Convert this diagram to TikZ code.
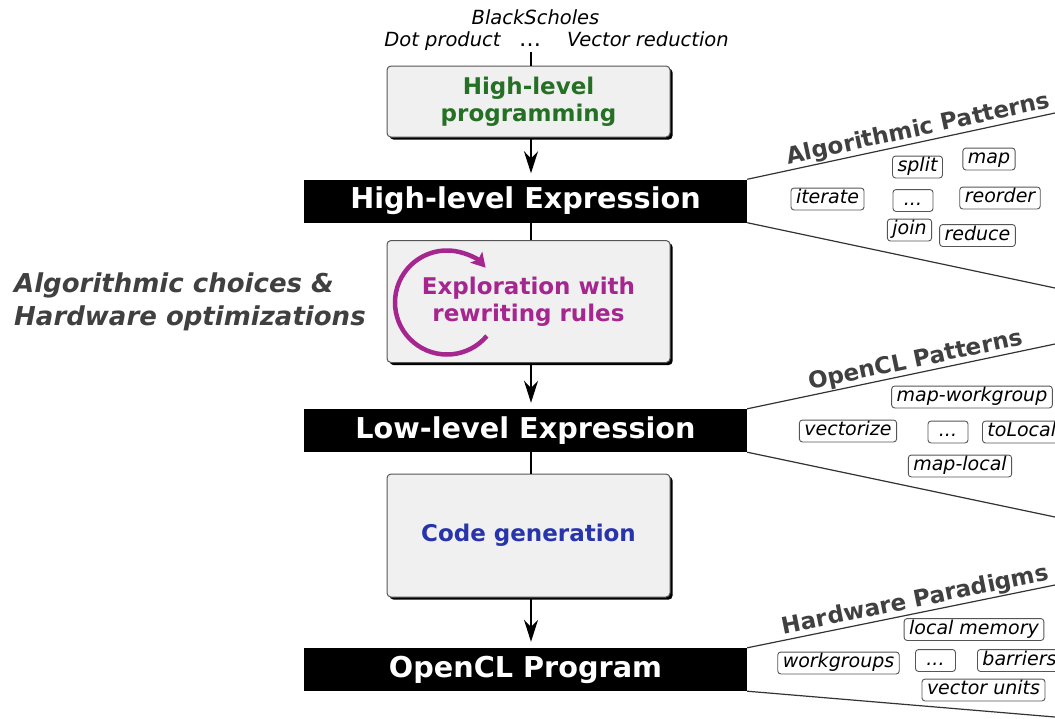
\documentclass[tikz,border=0pt]{standalone}
\usepackage{fontspec}
\setmainfont{DejaVu Sans}[ItalicFont={DejaVu Sans Oblique},BoldItalicFont={DejaVu Sans Bold Oblique}]
\usetikzlibrary{arrows.meta,shadows,calc}

\definecolor{boxfill}{HTML}{F0F0F0}
\definecolor{boxline}{HTML}{555555}
\definecolor{stepgreen}{RGB}{38,112,38}
\definecolor{steppurple}{RGB}{166,38,143}
\definecolor{stepblue}{RGB}{40,52,170}
\definecolor{labelgray}{HTML}{404040}
\definecolor{fanline}{HTML}{333333}

\begin{document}
\begin{tikzpicture}[x=1pt,y=-1pt,
  stage/.style={draw=boxline, line width=1pt, fill=boxfill, rounded corners=4pt,
    minimum width=283pt, inner sep=0pt, align=center,
    font=\fontsize{23}{27}\selectfont\bfseries,
    drop shadow={shadow xshift=2.6pt, shadow yshift=-2.6pt, fill=black, opacity=1}},
  expr/.style={fill=black, text=white, minimum width=443pt, minimum height=43pt,
    inner sep=0pt, font=\fontsize{28.7}{30}\selectfont\bfseries},
  tag/.style={draw=boxline, line width=0.9pt, rounded corners=3pt, inner xsep=5pt,
    inner ysep=1.5pt, text height=14.4pt, text depth=4.5pt,
    font=\fontsize{19}{22}\selectfont\itshape},
  dotstag/.style={tag, minimum width=40pt},
  flow/.style={line width=2pt, shorten >=6pt, -{Stealth[length=22pt,width=14pt,inset=7pt]}},
  link/.style={line width=2pt},
  fan/.style={draw=fanline, line width=1.2pt},
  fanlabel/.style={sloped, above, inner sep=0.5pt, text=labelgray,
    font=\fontsize{23}{25}\selectfont\bfseries},
  example/.style={font=\fontsize{19.5}{22}\selectfont\itshape, inner sep=0pt},
]
\useasboundingbox (0,0) rectangle (1055,718);
\clip (0,0) rectangle (1055,718);

% vertical axis of the flow
\coordinate (axis) at (531,0);

% example programs
\node[example, anchor=base] (bs) at (535.5,24) {BlackScholes};
\node[example, anchor=base] (dot) at (442.5,46) {Dot product};
\node[anchor=base, inner sep=0pt, font=\fontsize{22}{22}\selectfont] (etc) at (530,46) {…};
\node[example, anchor=base] (vec) at (648,46) {Vector reduction};
\coordinate (top) at (531,52);

% compilation stages
\node[stage, minimum height=71pt, text=stepgreen] (hlp) at (528.5,101.5) {High-level\\programming};
\node[expr] (hle) at (525.5,201) {High-level Expression};
\node[stage, minimum height=122pt, text=steppurple] (rw) at (528.5,301.5) {Exploration with\\rewriting rules};
\node[expr] (lle) at (525.5,430.5) {Low-level Expression};
\node[stage, minimum height=123pt, text=stepblue] (cg) at (528.5,535.5) {Code generation};
\node[expr] (ocl) at (525.5,669.5) {OpenCL Program};

% connectors between stages
\draw[link] (top) -- (top |- hlp.north);
\draw[flow] (hlp.south -| axis) -- (hle.north -| axis);
\draw[link] (hle.south -| axis) -- (rw.north -| axis);
\draw[flow] (rw.south -| axis) -- (lle.north -| axis);
\draw[link] (lle.south -| axis) -- (cg.north -| axis);
\draw[flow] (cg.south -| axis) -- (ocl.north -| axis);

% rewriting loop
\draw[steppurple, line width=4.5pt, -{Stealth[length=14pt,width=16pt,inset=3pt]}]
  (447,302.5) ++(40:52) arc[start angle=40, end angle=318, radius=52];

% side caption
\node[anchor=west, align=left, inner sep=0pt, text=labelgray,
  font=\fontsize{26}{33}\selectfont\bfseries\itshape] (choices) at (14,301.5)
  {Algorithmic choices \&\\Hardware optimizations};

% algorithmic patterns
\coordinate (f1t) at (1055,113);
\coordinate (f1b) at (1055,288);
\draw[fan] (hle.north east) -- node[fanlabel, pos=0.565] (alglabel) {Algorithmic Patterns} (f1t);
\draw[fan] (hle.south east) -- (f1b);
\node[tag] (split) at (917.5,167) {split};
\node[tag] (map) at (989,159) {map};
\node[tag] (iterate) at (827.5,199) {iterate};
\node[dotstag] (algdots) at (913,200.5) {...};
\node[tag] (reorder) at (1000,198) {reorder};
\node[tag] (join) at (909.5,230) {join};
\node[tag] (reduce) at (977.5,235.5) {reduce};

% OpenCL patterns
\coordinate (f2t) at (1055,344);
\coordinate (f2b) at (1055,517);
\draw[fan] (lle.north east) -- node[fanlabel, pos=0.555] (ocllabel) {OpenCL Patterns} (f2t);
\draw[fan] (lle.south east) -- (f2b);
\node[tag] (mapwg) at (972,397) {map-workgroup};
\node[tag] (vectorize) at (848,431) {vectorize};
\node[dotstag] (ocldots) at (948,432) {...};
\node[tag, anchor=west] (tolocal) at (982,432) {toLocal};
\node[tag] (maplocal) at (960,466) {map-local};

% hardware paradigms
\coordinate (f3t) at (1055,585);
\coordinate (f3b) at (1055,717);
\draw[fan] (ocl.north east) -- node[fanlabel, pos=0.555] (hwlabel) {Hardware Paradigms} (f3t);
\draw[fan] (ocl.south east) -- (f3b);
\node[tag] (localmem) at (974,629.5) {local memory};
\node[tag] (workgroups) at (838.5,663) {workgroups};
\node[dotstag] (hwdots) at (935.5,660.5) {...};
\node[tag, anchor=west] (barriers) at (977,660.5) {barriers};
\node[tag] (vecunits) at (983.5,690) {vector units};
\end{tikzpicture}
\end{document}
